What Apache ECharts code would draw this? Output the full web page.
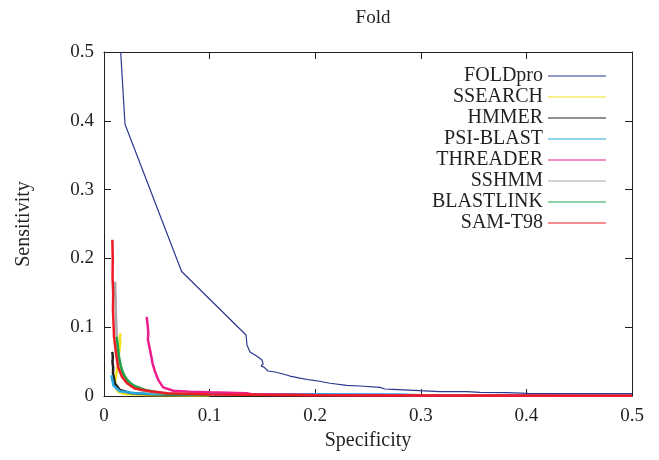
<!DOCTYPE html>
<html>
<head>
<meta charset="utf-8">
<script src="https://cdn.jsdelivr.net/npm/echarts@6/dist/echarts.min.js"></script>
<style>
html,body{margin:0;padding:0;background:#fff;}
#chart{width:659px;height:460px;}
</style>
</head>
<body>
<div id="chart"></div>
<script>
const seriesNames = ['FOLDpro','SSEARCH','HMMER','PSI-BLAST','THREADER','SSHMM','BLASTLINK','SAM-T98'];
const seriesColors = ['#2b3990','#f2e21a','#231f20','#27aae1','#ec1c8c','#a7a9ac','#1fa34a','#ed1c24'];
const xTicks = [0, 0.1, 0.2, 0.3, 0.4, 0.5];
const yTicks = [0, 0.1, 0.2, 0.3, 0.4, 0.5];

// [specificity, sensitivity]
const foldpro = [[0.0158,0.5],[0.0199,0.395],[0.0735,0.181],[0.1345,0.0887],[0.1354,0.0741],[0.1383,0.064],[0.143,0.0596],[0.1458,0.0567],[0.1496,0.0523],[0.1506,0.0465],[0.1487,0.0436],[0.1515,0.042],[0.1553,0.0363],[0.162,0.0349],[0.1695,0.032],[0.176,0.029],[0.1856,0.026],[0.195,0.0233],[0.2027,0.0218],[0.214,0.0185],[0.2298,0.0155],[0.2424,0.0145],[0.2614,0.0126],[0.266,0.0102],[0.2737,0.0097],[0.299,0.0077],[0.318,0.0063],[0.3435,0.0063],[0.356,0.0054],[0.381,0.0048],[0.4015,0.0039],[0.432,0.0036],[0.5,0.0036]];
const ssearch = [[0.0157,0.091],[0.0150,0.084],[0.0155,0.078],[0.0142,0.062],[0.0132,0.046],[0.0115,0.031],[0.0104,0.018],[0.0118,0.010],[0.0136,0.006],[0.02,0.003],[0.04,0.0015],[0.1,0.0008]];
const hmmer = [[0.0079,0.064],[0.0084,0.056],[0.0080,0.050],[0.0087,0.041],[0.0085,0.033],[0.0104,0.018],[0.015,0.0087],[0.025,0.0044],[0.039,0.003],[0.06,0.002],[0.1,0.0015]];
const psiblast = [[0.007,0.03],[0.009,0.015],[0.015,0.007],[0.03,0.004],[0.05,0.003],[0.1,0.0026],[0.2,0.0024],[0.28,0.0022],[0.3,0.0012],[0.5,0.0008]];
const threader = [[0.0404,0.115],[0.0412,0.105],[0.042,0.091],[0.0415,0.082],[0.0436,0.067],[0.046,0.0475],[0.0483,0.0354],[0.0515,0.023],[0.056,0.0126],[0.0657,0.0077],[0.081,0.0063],[0.1,0.0054],[0.135,0.004],[0.14,0.0025],[0.2,0.0015],[0.3,0.0008],[0.5,0.0005]];
const sshmm = [[0.0105,0.166],[0.0110,0.140],[0.0112,0.125],[0.0118,0.096],[0.0126,0.067],[0.0143,0.052],[0.017,0.038],[0.0215,0.023],[0.028,0.0135],[0.034,0.0087],[0.0436,0.0058],[0.058,0.0036],[0.1,0.002]];
const blastlink = [[0.012,0.086],[0.0128,0.0765],[0.0142,0.057],[0.016,0.0426],[0.018,0.033],[0.0208,0.0257],[0.0246,0.0194],[0.029,0.0145],[0.034,0.0116],[0.039,0.0087],[0.06,0.003],[0.1,0.0015]];
const samt98 = [[0.0079,0.227],[0.0083,0.200],[0.0081,0.173],[0.0087,0.150],[0.0085,0.125],[0.0095,0.086],[0.0114,0.062],[0.0133,0.0426],[0.017,0.028],[0.0218,0.0185],[0.029,0.011],[0.0436,0.007],[0.06,0.004],[0.1,0.002],[0.2,0.001],[0.5,0.0005]];

const seriesData = [foldpro, ssearch, hmmer, psiblast, threader, sshmm, blastlink, samt98];

const serif = '"Liberation Serif", "DejaVu Serif", serif';
const frame = '#231f20';

const chart = echarts.init(document.getElementById('chart'), null, {renderer: 'canvas'});

function axisBase(extra) {
  return Object.assign({
    type: 'value', min: 0, max: 0.5, interval: 0.1,
    axisLine: {show: true, onZero: false, lineStyle: {color: frame, width: 1}},
    axisTick: {show: true, inside: true, length: 7, lineStyle: {color: frame, width: 1}},
    splitLine: {show: false},
  }, extra);
}

chart.setOption({
  animation: false,
  backgroundColor: '#fff',
  title: {
    text: 'Fold', left: 368, top: 4, textAlign: 'center',
    textStyle: {fontFamily: serif, fontSize: 19, fontWeight: 'normal', color: '#231f20'}
  },
  grid: {left: 104, right: 27, top: 52, bottom: 64, containLabel: false},
  legend: {
    orient: 'vertical', right: 48, top: 61, align: 'right',
    icon: 'rect', itemWidth: 58, itemHeight: 1.2, itemGap: 1,
    selectedMode: false,
    textStyle: {fontFamily: serif, fontSize: 20, lineHeight: 20, color: '#231f20'},
    data: seriesNames
  },
  xAxis: [
    axisBase({
      position: 'bottom',
      name: 'Specificity', nameLocation: 'middle', nameGap: 30,
      nameTextStyle: {fontFamily: serif, fontSize: 20, color: '#231f20'},
      axisLabel: {fontFamily: serif, fontSize: 19, color: '#231f20', margin: 11,
        formatter: v => xTicks.includes(+v.toFixed(1)) ? String(+v.toFixed(1)) : ''}
    }),
    axisBase({position: 'top', axisLabel: {show: false}})
  ],
  yAxis: [
    axisBase({
      position: 'left',
      name: 'Sensitivity', nameLocation: 'middle', nameGap: 70,
      nameTextStyle: {fontFamily: serif, fontSize: 20, color: '#231f20'},
      axisLabel: {fontFamily: serif, fontSize: 19, color: '#231f20', margin: 10,
        formatter: v => yTicks.includes(+v.toFixed(1)) ? String(+v.toFixed(1)) : ''}
    }),
    axisBase({position: 'right', axisLabel: {show: false}})
  ],
  series: seriesNames.map((name, i) => ({
    name: name,
    type: 'line',
    xAxisIndex: 0, yAxisIndex: 0,
    data: seriesData[i],
    symbol: 'none',
    smooth: false,
    clip: true,
    color: seriesColors[i],
    lineStyle: {color: seriesColors[i], width: i === 0 ? 1.2 : 2.5}
  }))
});
</script>
</body>
</html>
